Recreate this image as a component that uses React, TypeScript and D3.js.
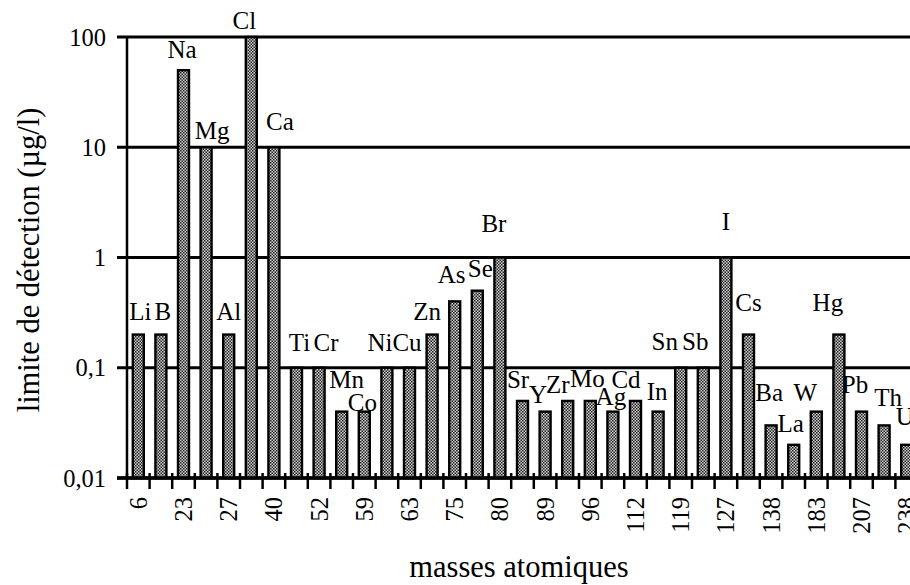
import React from "react";
import * as d3 from "d3";

const elements = ["Li","B","Na","Mg","Al","Cl","Ca","Ti","Cr","Mn","Co","Ni","Cu","Zn","As","Se","Br","Sr","Y","Zr","Mo","Ag","Cd","In","Sn","Sb","I","Cs","Ba","La","W","Hg","Pb","Th","U"];
const masses = [6,11,23,24,27,35,40,48,52,55,59,60,63,66,75,78,80,88,89,90,96,107,112,115,119,121,127,133,138,139,183,202,207,232,238];
const limits = [0.2,0.2,50,10,0.2,100,10,0.1,0.1,0.04,0.04,0.1,0.1,0.2,0.4,0.5,1,0.05,0.04,0.05,0.05,0.04,0.05,0.04,0.1,0.1,1,0.2,0.03,0.02,0.04,0.2,0.04,0.03,0.02];
const yTicks = [0.01, 0.1, 1, 10, 100];
const yTickLabels = ["0,01", "0,1", "1", "10", "100"];
const xTitle = "masses atomiques";
const yTitle = "limite de détection (µg/l)";

// label placement nudges (layout only): [dx, distance above bar top to text centre]
const labelNudge: Record<string, [number, number]> = {
  Li: [2, 23], B: [2, 23], Na: [-1.5, 21], Mg: [6, 17], Al: [0, 23], Cl: [-7, 17], Ca: [6, 26],
  Ti: [3, 25], Cr: [7, 25], Mn: [5, 32], Co: [-2, 9], Ni: [-7, 25], Cu: [-2.5, 25], Zn: [-5, 23],
  As: [-3, 27], Se: [3, 22], Br: [-6, 34], Sr: [-4.5, 21], Y: [-7, 17], Zr: [-10, 16], Mo: [-3, 22],
  Ag: [-2, 15], Cd: [-9.5, 21], In: [-1, 20], Sn: [-16, 26], Sb: [-8, 26], I: [0, 36], Cs: [0, 32],
  Ba: [-2, 33], La: [-3, 21], W: [-11, 19], Hg: [-11, 32], Pb: [-6.5, 27], Th: [4, 28], U: [-2, 28],
};

const W = 910, H = 585;
const left = 127, top = 37, bottom = 478, step = 22.6;
const font = "'Liberation Serif', 'Times New Roman', serif";

export default function App() {
  const x = d3.scaleBand<string>().domain(elements).range([left, left + step * elements.length]).padding(0);
  const y = d3.scaleLog().domain([0.01, 100]).range([bottom, top]);
  const barW = 11;
  const bw = x.bandwidth();
  return (
    <svg width={W} height={H} style={{ position: "absolute", left: 0, top: 0, background: "#fff" }} fontFamily={font}>
      <defs>
        <pattern id="dots" width={3} height={3} patternUnits="userSpaceOnUse">
          <rect width={3} height={3} fill="#d4d4d4" />
          <rect x={0} y={0} width={1.5} height={1.5} fill="#1e1e1e" />
          <rect x={1.5} y={1.5} width={1.5} height={1.5} fill="#1e1e1e" />
        </pattern>
      </defs>
      {/* gridlines */}
      {yTicks.map((t) => (
        <line key={"g" + t} x1={left - 10} x2={W + 20} y1={y(t)} y2={y(t)} stroke="#000" strokeWidth={3} />
      ))}
      {/* y axis */}
      <line x1={left} x2={left} y1={top} y2={bottom} stroke="#000" strokeWidth={2.5} />
      {/* x ticks at band boundaries */}
      {elements.map((e) => {
        const xb = (x(e) as number);
        return <line key={"t" + e} x1={xb} x2={xb} y1={bottom - 5} y2={bottom + 11} stroke="#000" strokeWidth={2.5} />;
      })}
      {/* bars */}
      {elements.map((e, i) => {
        const cx = (x(e) as number) + bw / 2;
        const yt = y(limits[i]);
        return (
          <rect key={"b" + e} x={cx - barW / 2} y={yt} width={barW} height={bottom - yt}
            fill="url(#dots)" stroke="#000" strokeWidth={2.4} />
        );
      })}
      {/* baseline on top */}
      <line x1={left - 10} x2={W + 20} y1={bottom} y2={bottom} stroke="#000" strokeWidth={3.5} />
      {/* element labels */}
      {elements.map((e, i) => {
        const cx = (x(e) as number) + bw / 2;
        const [dx, dy] = labelNudge[e] || [0, 22];
        return (
          <text key={"l" + e} x={cx + dx} y={y(limits[i]) - dy + 8.5} textAnchor="middle" fontSize={25} fill="#000">{e}</text>
        );
      })}
      {/* x tick labels (every other category) */}
      {elements.map((e, i) => {
        if (i % 2 !== 0) return null;
        const cx = (x(e) as number) + bw / 2;
        return (
          <text key={"m" + e} transform={`translate(${cx},${bottom + 19}) rotate(-90)`} textAnchor="end" dy="0.35em" fontSize={24.5} fill="#000">{masses[i]}</text>
        );
      })}
      {/* y tick labels */}
      {yTicks.map((t, i) => (
        <text key={"yl" + t} x={106} y={y(t)} dy="0.35em" textAnchor="end" fontSize={24.5} fill="#000">{yTickLabels[i]}</text>
      ))}
      {/* titles */}
      <text x={519} y={577} textAnchor="middle" fontSize={30.5} fill="#000">{xTitle}</text>
      <text transform={`translate(28,260) rotate(-90)`} textAnchor="middle" dy="0.35em" fontSize={30.5} fill="#000">{yTitle}</text>
    </svg>
  );
}
